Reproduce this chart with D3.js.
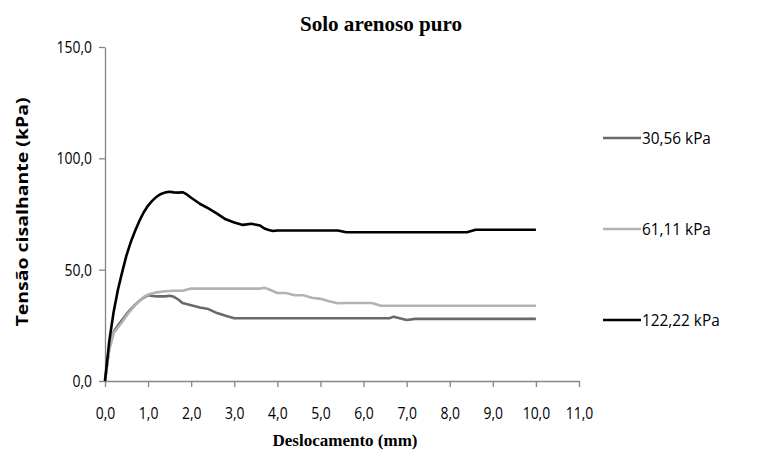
<!DOCTYPE html>
<html><head><meta charset="utf-8">
<script src="https://cdn.jsdelivr.net/npm/d3@7"></script>
<style>body{margin:0;background:#fff}svg{display:block}</style>
</head><body><svg id="c" width="781" height="457"></svg>
<script>
const title = "Solo arenoso puro";
const xTitle = "Deslocamento (mm)";
const yTitle = "Tensão cisalhante (kPa)";
const xTicks = [0,1,2,3,4,5,6,7,8,9,10,11];
const yTicks = [0,50,100,150];
const seriesNames = ["30,56 kPa","61,11 kPa","122,22 kPa"];
const seriesColors = ["#6a6a6a","#b3b3b3","#000000"];

const disp30 = [0,0.1,0.2,0.3,0.4,0.5,0.6,0.7,0.8,0.9,1.0,1.1,1.2,1.4,1.5,1.6,1.7,1.8,2.0,2.2,2.4,2.6,2.8,3.0,3.2,3.4,3.6,3.8,4.0,4.2,4.4,4.6,4.8,5.0,5.2,5.4,5.6,5.8,6.0,6.2,6.4,6.6,6.7,7.0,7.2,7.4,7.6,7.8,8.0,8.2,8.4,8.6,8.8,9.0,9.2,9.4,9.6,9.8,10.0];
const tau30  = [0,15,22,25,27.5,30,32.3,34.3,36,37.5,38.5,38.2,38,38,38.3,37.8,36.6,35,34,33,32.3,30.5,29.3,28.2,28.2,28.2,28.2,28.2,28.2,28.2,28.2,28.2,28.2,28.2,28.2,28.2,28.2,28.2,28.2,28.2,28.2,28.2,28.9,27.4,27.9,27.9,27.9,27.9,27.9,27.9,27.9,27.9,27.9,27.9,27.9,27.9,27.9,27.9,27.9];

const disp61 = [0,0.1,0.2,0.3,0.4,0.5,0.6,0.7,0.8,0.9,1.0,1.2,1.4,1.6,1.8,2.0,2.2,2.4,2.6,2.8,3.0,3.2,3.4,3.6,3.7,3.8,4.0,4.2,4.4,4.6,4.8,5.0,5.2,5.4,5.6,5.8,6.0,6.2,6.4,6.6,6.8,7.0,7.2,7.4,7.6,7.8,8.0,8.2,8.4,8.6,8.8,9.0,9.2,9.4,9.6,9.8,10.0];
const tau61  = [0,14,21.5,24,26.5,29.3,31.8,34,36,37.8,38.8,39.8,40.3,40.5,40.5,41.5,41.5,41.5,41.5,41.5,41.5,41.5,41.5,41.5,41.9,41.2,39.5,39.5,38.5,38.5,37.4,36.9,35.8,34.9,35,35,35,35,33.8,33.8,33.8,33.8,33.8,33.8,33.8,33.8,33.8,33.8,33.8,33.8,33.8,33.8,33.8,33.8,33.8,33.8,33.8];

const disp122 = [0,0.1,0.2,0.3,0.4,0.5,0.6,0.7,0.8,0.9,1.0,1.1,1.2,1.3,1.4,1.5,1.6,1.7,1.8,1.9,2.0,2.2,2.4,2.6,2.8,3.0,3.2,3.4,3.6,3.7,3.8,3.9,4.0,4.2,4.4,4.6,4.8,5.0,5.2,5.4,5.6,5.8,6.0,6.2,6.4,6.6,6.8,7.0,7.2,7.4,7.6,7.8,8.0,8.2,8.4,8.6,8.8,9.0,9.2,9.4,9.6,9.8,10.0];
const tau122  = [0,18,31,41,49,56.5,62.5,67.5,72,75.8,78.8,81,82.8,84,84.7,85,84.7,84.6,84.8,83.8,82.3,79.6,77.5,75.2,72.6,71.2,70.1,70.6,69.8,68.5,67.8,67.4,67.6,67.6,67.6,67.6,67.6,67.6,67.6,67.6,66.8,66.8,66.8,66.8,66.8,66.8,66.8,66.8,66.8,66.8,66.8,66.8,66.8,66.8,66.8,67.9,67.9,67.9,67.9,67.9,67.9,67.9,67.9];

const series = [
  {name: seriesNames[0], color: seriesColors[0], xs: disp30, ys: tau30},
  {name: seriesNames[1], color: seriesColors[1], xs: disp61, ys: tau61},
  {name: seriesNames[2], color: seriesColors[2], xs: disp122, ys: tau122}
];

const svg = d3.select("#c");
const mLeft = 105, mRight = 579, mTop = 47, mBottom = 381;
const x = d3.scaleLinear().domain([0,11]).range([mLeft,mRight]);
const y = d3.scaleLinear().domain([0,150]).range([mBottom,mTop]);
const axisColor = "#868686";
const tickFont = "'Open Sans', sans-serif";
const sx = 0.87; // horizontal squeeze of the sans tick text

const fmt = d => d.toFixed(1).replace(".", ",");

const gx = svg.append("g").attr("transform", `translate(0,${mBottom})`)
  .call(d3.axisBottom(x).tickValues(xTicks).tickFormat(fmt).tickSize(6).tickSizeOuter(0));
const gy = svg.append("g").attr("transform", `translate(${mLeft},0)`)
  .call(d3.axisLeft(y).tickValues(yTicks).tickFormat(fmt).tickSize(6).tickSizeOuter(0));
[gx, gy].forEach(g => {
  g.select(".domain").attr("stroke", axisColor).attr("stroke-width", 1.3);
  g.selectAll(".tick line").attr("stroke", axisColor).attr("stroke-width", 1.3);
  g.selectAll(".tick text").attr("fill", "#000").style("font-family", tickFont).style("font-size", "16px")
    .attr("transform", `scale(${sx},1)`);
});
gx.selectAll(".tick text").attr("dy", "0").attr("y", 38);
gy.selectAll(".tick text").attr("x", -13 / sx).attr("dy", "0.35em");

const line = d3.line().x(d => x(d[0])).y(d => y(d[1]));
series.forEach(s => {
  svg.append("path")
    .datum(s.xs.map((v,i) => [v, s.ys[i]]))
    .attr("fill","none").attr("stroke", s.color).attr("stroke-width", 2.6)
    .attr("stroke-linejoin","round").attr("d", line);
});

const legY = [138, 229, 320];
series.forEach((s,i) => {
  svg.append("line").attr("x1", 603).attr("x2", 641).attr("y1", legY[i]).attr("y2", legY[i])
    .attr("stroke", s.color).attr("stroke-width", 2.6);
  svg.append("text").attr("transform", `translate(642,${legY[i]}) scale(0.96,1)`).attr("dy", "0.35em")
    .style("font-family", tickFont).style("font-size", "16px").text(s.name);
});

svg.append("text").attr("transform","translate(381,31) scale(0.96,1)").attr("text-anchor","middle")
  .style("font-family","'Liberation Serif', serif").style("font-weight","bold").style("font-size","22px")
  .text(title);
svg.append("text").attr("x", 345).attr("y", 446).attr("text-anchor","middle")
  .style("font-family","'Liberation Serif', serif").style("font-weight","bold").style("font-size","17px")
  .text(xTitle);
svg.append("text").attr("transform","translate(28,212) rotate(-90) scale(1,0.85)").attr("text-anchor","middle")
  .style("font-family","'Open Sans', sans-serif").style("font-weight","bold").style("font-size","19.5px")
  .text(yTitle);
</script></body></html>
